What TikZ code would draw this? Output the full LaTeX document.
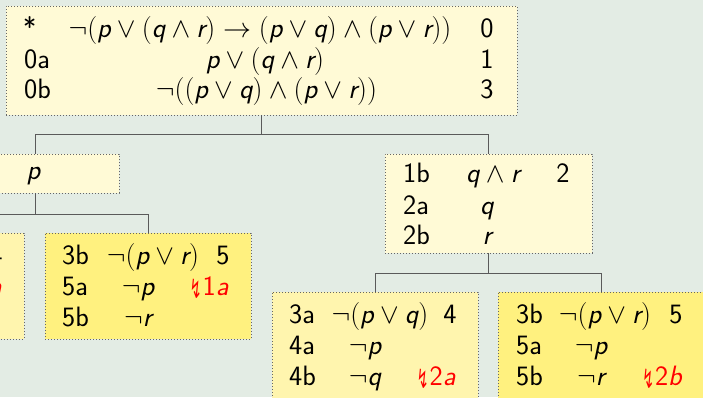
\RequirePackage{fix-cm}
\documentclass[tikz,border=0pt]{standalone}
\usepackage{fontspec}
\newfontfamily\djv{DejaVu Sans}
\definecolor{bgc}{HTML}{E3ECE4}
\definecolor{paley}{HTML}{FFFAD6}
\definecolor{midy}{HTML}{FFF5AE}
\definecolor{strongy}{HTML}{FFF17F}
\definecolor{linec}{HTML}{5A5A5A}
\newcommand{\myvar}[1]{\mbox{\sffamily\itshape #1}}
\newcommand{\zap}{\mbox{\raisebox{-3pt}{\djv\scalebox{0.5}[0.95]{↯}}}\hspace{1pt}}
\begin{document}
\begin{tikzpicture}[x=1pt,y=-1pt,
  box/.style={draw=black!60, line width=0.8pt, dash pattern=on 0.8pt off 2.2pt, inner sep=0, outer sep=0, anchor=north west},
  tx/.style={inner sep=0, anchor=base, font=\fontsize{28}{33}\selectfont\sffamily},
  txl/.style={tx, anchor=base west},
  txr/.style={tx, anchor=base east},
  conn/.style={draw=linec, line width=1pt}]
\fill[bgc] (0,0) rectangle (703,397);
\useasboundingbox (0,0) rectangle (703,397);
\clip (0,0) rectangle (703,397);

% boxes
\node[box, fill=paley, minimum width=511pt, minimum height=109pt] (top) at (6,6) {};
\node[box, fill=paley, minimum width=168pt, minimum height=39pt] (pn) at (-49,154) {};
\node[box, fill=paley, minimum width=207pt, minimum height=99pt] (qr) at (385,154) {};
\node[box, fill=midy, minimum width=206pt, minimum height=106pt] (la) at (-182,233) {};
\node[box, fill=strongy, minimum width=206pt, minimum height=106pt] (lb) at (45,233) {};
\node[box, fill=midy, minimum width=206pt, minimum height=106pt] (ra) at (272,292) {};
\node[box, fill=strongy, minimum width=206pt, minimum height=106pt] (rb) at (498,292) {};

% connectors
\draw[conn] (top.south) -- ++(0,19) -| (pn.north);
\draw[conn] (top.south) -- ++(0,19) -| (qr.north);
\draw[conn] (pn.south) -- ++(0,21) -| (la.north);
\draw[conn] (pn.south) -- ++(0,21) -| (lb.north);
\draw[conn] (qr.south) -- ++(0,20) -| (ra.north);
\draw[conn] (qr.south) -- ++(0,20) -| (rb.north);

% top node text
\node[txl] (t1l) at (23,37.5) {*};
\node[tx] (t1f) at (260,37.5) {$\neg(\myvar{p}\vee(\myvar{q}\wedge\myvar{r})\to(\myvar{p}\vee\myvar{q})\wedge(\myvar{p}\vee\myvar{r}))$};
\node[tx] (t1n) at (487,37.5) {0};
\node[txl] (t2l) at (24,68.5) {0a};
\node[tx] (t2f) at (265,68.5) {$\myvar{p}\vee(\myvar{q}\wedge\myvar{r})$};
\node[tx] (t2n) at (487,68.5) {1};
\node[txl] (t3l) at (24,98.5) {0b};
\node[tx] (t3f) at (266.5,98.5) {$\neg((\myvar{p}\vee\myvar{q})\wedge(\myvar{p}\vee\myvar{r}))$};
\node[tx] (t3n) at (487,98.5) {3};

% p node
\node[tx] (pt) at (33.5,179) {$\myvar{p}$};

% q and r node
\node[txl] (q1l) at (403,182) {1b};
\node[tx] (q1f) at (493,182) {$\myvar{q}\wedge\myvar{r}$};
\node[tx] (q1n) at (563,182) {2};
\node[txl] (q2l) at (403,214) {2a};
\node[tx] (q2f) at (487,214) {$\myvar{q}$};
\node[txl] (q3l) at (403,244) {2b};
\node[tx] (q3f) at (487,244) {$\myvar{r}$};

% partial left node (3a), only its right edge is in view
\node[tx] (a1n) at (-4,264.5) {4};
\node[txr, text=red] (a2c) at (2,295.5) {\zap1\textit{a}};

% left 3b node
\node[txl] (b1l) at (62,264.5) {3b};
\node[tx] (b1f) at (153,264.5) {$\neg(\myvar{p}\vee\myvar{r})$};
\node[tx] (b1n) at (223,264.5) {5};
\node[txl] (b2l) at (62,295.5) {5a};
\node[tx] (b2f) at (138,295.5) {$\neg\myvar{p}$};
\node[txr, text=red] (b2c) at (229,295.5) {\zap1\textit{a}};
\node[txl] (b3l) at (62,326.5) {5b};
\node[tx] (b3f) at (138,326.5) {$\neg\myvar{r}$};

% bottom 3a node
\node[txl] (c1l) at (289,323.5) {3a};
\node[tx] (c1f) at (380,323.5) {$\neg(\myvar{p}\vee\myvar{q})$};
\node[tx] (c1n) at (450,323.5) {4};
\node[txl] (c2l) at (289,354.5) {4a};
\node[tx] (c2f) at (365,354.5) {$\neg\myvar{p}$};
\node[txl] (c3l) at (289,385.5) {4b};
\node[tx] (c3f) at (365,385.5) {$\neg\myvar{q}$};
\node[txr, text=red] (c3c) at (456,385.5) {\zap2\textit{a}};

% bottom 3b node
\node[txl] (d1l) at (516,323.5) {3b};
\node[tx] (d1f) at (605,323.5) {$\neg(\myvar{p}\vee\myvar{r})$};
\node[tx] (d1n) at (676,323.5) {5};
\node[txl] (d2l) at (516,354.5) {5a};
\node[tx] (d2f) at (591,354.5) {$\neg\myvar{p}$};
\node[txl] (d3l) at (516,385.5) {5b};
\node[tx] (d3f) at (591,385.5) {$\neg\myvar{r}$};
\node[txr, text=red] (d3c) at (683,385.5) {\zap2\textit{b}};
\end{tikzpicture}
\end{document}
